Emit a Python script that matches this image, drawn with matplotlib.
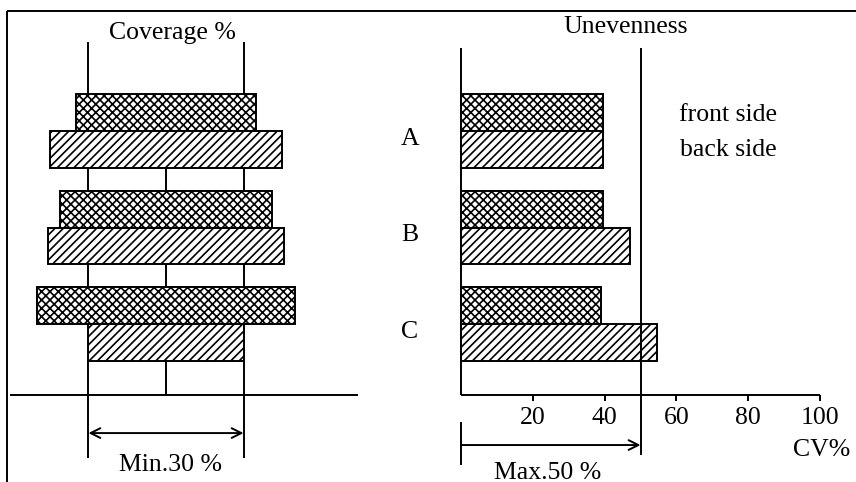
import matplotlib
matplotlib.use('Agg')
import matplotlib.pyplot as plt
from matplotlib.lines import Line2D

# values
groups = ['A', 'B', 'C']
coverage_front = [35, 41, 50]
coverage_back = [45, 45.5, 30]
cv_front = [39.5, 39.5, 39]
cv_back = [39.5, 47, 54.5]
min_coverage = 30
max_cv = 50
cv_ticks = [20, 40, 60, 80, 100]

plt.rcParams['font.family'] = ['Liberation Serif', 'DejaVu Serif']
plt.rcParams['hatch.linewidth'] = 1.2
FS = 18.5
LW = 1.4
BAR_H = 0.38

fig = plt.figure(figsize=(8.56, 4.82), dpi=100)
fig.patch.set_facecolor('white')

ylim = (3.637, -1.3575)
ypos = list(range(len(groups)))
y_front = [y - BAR_H / 2 for y in ypos]
y_back = [y + BAR_H / 2 for y in ypos]
line_kw = dict(color='black', lw=LW, solid_capstyle='butt')

# ---- left panel: coverage, bars centred on 0 ----
ax1 = fig.add_axes([0, 0, 430 / 856, 1])
ax1.set_xlim(-166 / 5.17, (430 - 166) / 5.17)
ax1.set_ylim(*ylim)
ax1.axis('off')

ax1.barh(y_front, coverage_front, left=[-w / 2 for w in coverage_front],
         height=BAR_H, color='white', edgecolor='black', hatch='xxxx', lw=LW)
ax1.barh(y_back, coverage_back, left=[-w / 2 for w in coverage_back],
         height=BAR_H, color='white', edgecolor='black', hatch='////', lw=LW)

half = min_coverage / 2
for x in (-half, half):
    ax1.plot([x, x], [-0.922, -BAR_H], **line_kw)
base_y = 2.736
for i in range(len(groups)):
    top = y_back[i] + BAR_H / 2
    bottom = (ypos[i + 1] - BAR_H) if i + 1 < len(groups) else base_y
    for x in (-half, 0, half):
        ax1.plot([x, x], [top, bottom], **line_kw)
ax1.plot([-30.2, 37.1], [base_y, base_y], **line_kw)
for x in (-half, half):
    ax1.plot([x, x], [base_y, 3.389], **line_kw)
ax1.annotate('', xy=(half, 3.13), xytext=(-half, 3.13),
             arrowprops=dict(arrowstyle='<->,head_length=0.7,head_width=0.35',
                             lw=LW, color='black', shrinkA=0, shrinkB=0))
ax1.text(0.8, 3.46, f'Min.{min_coverage} %', ha='center', va='center', fontsize=FS)
ax1.text(1.2, -1.016, 'Coverage %', ha='center', va='center', fontsize=FS)
for y, g in zip(ypos, groups):
    ax1.text(47.2, y + 0.08, g, ha='center', va='center', fontsize=FS, clip_on=False)

# ---- right panel: unevenness ----
ax2 = fig.add_axes([430 / 856, 0, 426 / 856, 1])
ax2.set_xlim((430 - 461) / 3.59, (856 - 461) / 3.59)
ax2.set_ylim(*ylim)
ax2.axis('off')

ax2.barh(y_front, cv_front, height=BAR_H, color='white', edgecolor='black',
         hatch='xxxx', lw=LW)
ax2.barh(y_back, cv_back, height=BAR_H, color='white', edgecolor='black',
         hatch='////', lw=LW)

ax2.plot([0, 0], [-0.86, base_y], **line_kw)
ax2.plot([0, cv_ticks[-1]], [base_y, base_y], **line_kw)
for t in cv_ticks:
    ax2.plot([t, t], [base_y, base_y + 0.06], **line_kw)
    ax2.text(t, 2.974, str(t), ha='center', va='center', fontsize=FS)
ax2.plot([max_cv, max_cv], [-0.86, 3.36], **line_kw)
ax2.plot([0, 0], [3.015, 3.46], **line_kw)
ax2.annotate('', xy=(max_cv, 3.254), xytext=(0, 3.254),
             arrowprops=dict(arrowstyle='->,head_length=0.7,head_width=0.35',
                             lw=LW, color='black', shrinkA=0, shrinkB=0))
ax2.text(24.0, 3.54, f'Max.{max_cv} %', ha='center', va='center', fontsize=FS)
ax2.text(100.5, 3.306, 'CV%', ha='center', va='center', fontsize=FS)
ax2.text(46.0, -1.078, 'Unevenness', ha='center', va='center', fontsize=FS)
ax2.text(74.5, -0.166, 'front side', ha='center', va='center', fontsize=FS)
ax2.text(74.5, 0.197, 'back side', ha='center', va='center', fontsize=FS)

# outer frame (top and left edges of the scan)
fig.add_artist(Line2D([7 / 856, 1], [1 - 11 / 482, 1 - 11 / 482],
                      transform=fig.transFigure, **line_kw))
fig.add_artist(Line2D([7 / 856, 7 / 856], [0, 1 - 11 / 482],
                      transform=fig.transFigure, **line_kw))

fig.savefig('out.png', dpi=100)
